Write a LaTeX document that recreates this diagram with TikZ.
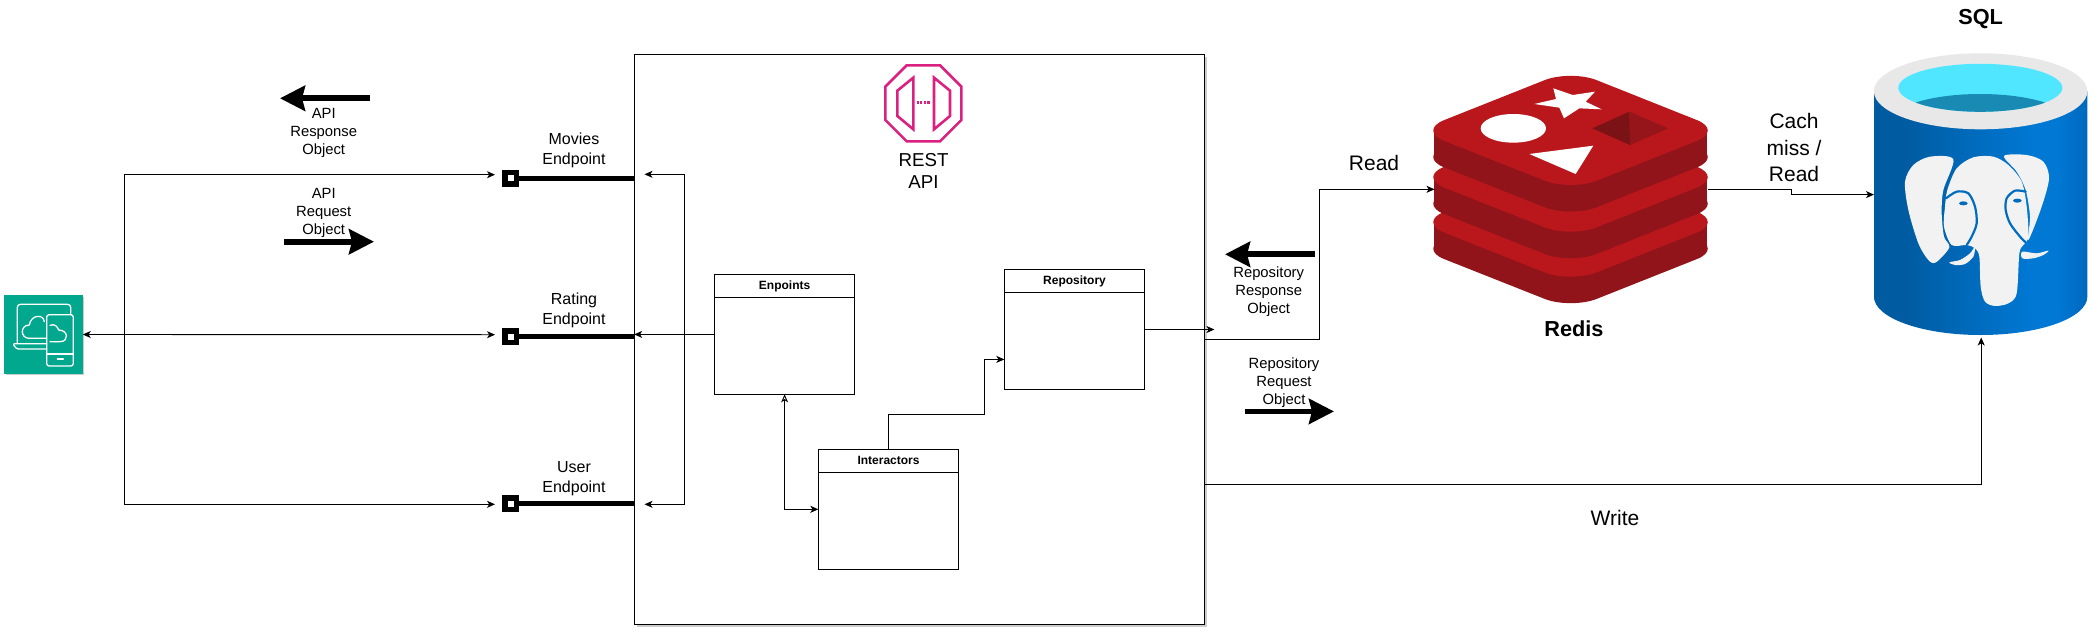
\documentclass[tikz,border=0pt]{standalone}
\usepackage{fontspec}
\setmainfont{Liberation Sans}
\usetikzlibrary{arrows.meta,shadows}
\definecolor{rsurf}{HTML}{B9171C}
\definecolor{rdark}{HTML}{90141A}
\definecolor{rpyra}{HTML}{7A1216}
\definecolor{rpyrb}{HTML}{96151A}
\definecolor{bluea}{HTML}{005BA1}
\definecolor{blueb}{HTML}{0078D4}
\definecolor{bluec}{HTML}{0068BC}
\definecolor{pinkc}{HTML}{DB2180}
\definecolor{tealc}{HTML}{01A88D}
\definecolor{offw}{HTML}{F2F2F2}
\definecolor{rimc}{HTML}{E8E8E8}
\definecolor{cyanc}{HTML}{50E6FF}
\definecolor{waterc}{HTML}{198AB3}
\pgfdeclarehorizontalshading{sqlbody}{100bp}{color(0bp)=(bluea);color(32bp)=(bluea);color(62bp)=(blueb);color(68bp)=(blueb);color(75bp)=(bluec);color(100bp)=(bluec)}
\newcommand{\redislayer}[1]{%
  \begin{scope}[yshift=-#1pt]
    \fill[rdark,rounded corners=28pt] (1418,157) -- (1570.7,96.3) -- (1723,157) -- (1570.7,217.5) -- cycle;
    \fill[rdark] (1434.4,130.5) rectangle (1707.3,157);
    \fill[rsurf,rounded corners=28pt] (1418,130.5) -- (1570.7,69.8) -- (1723,130.5) -- (1570.7,191) -- cycle;
  \end{scope}}
\tikzset{
  conn/.style={draw=black,line width=0.9pt,line join=miter},
  tipa/.tip={Stealth[length=8pt,width=7pt,inset=2.2pt]},
  tipo/.tip={Stealth[length=8pt,width=7pt,inset=2.2pt,fill=white]},
  bigarrow/.style={draw=black,line width=5.7pt,-{Stealth[length=25pt,width=25pt,inset=3pt]}},
  classbox/.style={draw=black,fill=white,line width=0.9pt,minimum width=140.4pt,minimum height=120pt,inner sep=0pt,outer sep=0pt},
  classhead/.style={draw=black,line width=0.9pt,minimum width=140.4pt,minimum height=23pt,inner sep=0pt,outer sep=0pt,anchor=north,font=\fontsize{12}{14}\selectfont\bfseries},
  portbox/.style={draw=black,fill=white,line width=5.5pt,minimum size=11.5pt,inner sep=0pt,outer sep=2.75pt},
  portline/.style={draw=black,line width=5pt},
  lblA/.style={font=\fontsize{16}{20}\selectfont,align=center,inner sep=0pt},
  lblB/.style={font=\fontsize{14.8}{18}\selectfont,align=center,inner sep=0pt},
  lblC/.style={font=\fontsize{21}{26.4}\selectfont,align=center,inner sep=0pt},
  lblD/.style={font=\fontsize{18.7}{22.5}\selectfont,align=center,inner sep=0pt},
  lblE/.style={font=\fontsize{21.7}{26}\selectfont\bfseries,align=center,inner sep=0pt},
  ghost/.style={inner sep=0pt,outer sep=0pt},
  whitestroke/.style={draw=white,line width=1.3pt,line join=round,line cap=round},
  pinkstroke/.style={draw=pinkc,line width=2.6pt,line join=miter},
  zoomed/.style={x=0.33333pt,y=-0.33333pt},
}
\begin{document}
\begin{tikzpicture}[x=1pt,y=-1pt]
\useasboundingbox (0,0) rectangle (2098,635);
\fill[white] (0,0) rectangle (2098,635);

% REST box
\node[draw=black,fill=white,line width=0.9pt,minimum width=570.6pt,minimum height=569.6pt,inner sep=0pt,outer sep=0pt,
  drop shadow={shadow xshift=2.5pt,shadow yshift=-2.5pt,opacity=.2,fill=black}] (rest) at (919.5,339.5) {};

% client icon
\node[fill=tealc,minimum width=78.5pt,minimum height=78.5pt,inner sep=0pt,outer sep=0pt,
  drop shadow={shadow xshift=1.5pt,shadow yshift=-1.5pt,opacity=.2,fill=black}] (client) at (43.5,334.5) {};
\begin{scope}[shift={(0,280)},zoomed]
  \draw[whitestroke,rounded corners=3pt] (52,188) -- (52,73) -- (212,73) -- (212,100);
  \draw[whitestroke,rounded corners=1.5pt] (140,191) -- (38,191) -- (50,207) -- (140,207);
  \draw[whitestroke,rounded corners=2.5pt] (140,104) rectangle (220,258);
  \draw[whitestroke] (140,222) -- (220,222);
  \draw[whitestroke] (172,237) -- (190,237);
  \draw[whitestroke] (138,175) -- (88,175) .. controls (60,175) and (60,135) .. (88,135) .. controls (92,105) and (130,100) .. (133,125);
  \draw[whitestroke] (150,136) .. controls (165,130) and (172,140) .. (176,150) .. controls (205,150) and (208,185) .. (180,185) -- (150,185);
\end{scope}

% ports
\node[portbox] (pm) at (510.5,178.3) {};
\node[portbox] (pr) at (510.5,336.5) {};
\node[portbox] (pu) at (510.5,503.6) {};
\draw[portline] (pm.east) -- (rest.west |- pm.east);
\draw[portline] (pr.east) -- (rest.west |- pr.east);
\draw[portline] (pu.east) -- (rest.west |- pu.east);

% class boxes
\node[classbox] (enp) at (784.6,334.4) {};
\node[classhead] at (enp.north) {Enpoints};
\node[classbox] (repo) at (1074.5,329.5) {};
\node[classhead] at (repo.north) {Repository};
\node[classbox] (inter) at (888.5,509.3) {};
\node[classhead] at (inter.north) {Interactors};

% coordinates
\coordinate (lj) at (124.5,334.7);
\coordinate (lm) at (495,174.7);
\coordinate (lr) at (495,334.7);
\coordinate (lu) at (495,504.3);
\coordinate (rj) at (684.3,334.4);
\coordinate (rm) at (644.5,174.3);
\coordinate (ru) at (644.5,504.3);
\coordinate (ir) at (984.4,414.3);
\coordinate (it) at (1004.3,359.4);
\coordinate (ro) at (1214.4,329.5);
\coordinate (rr) at (1204.8,339.3);
\coordinate (rb) at (1319.7,189.3);
\coordinate (ca) at (1791.6,189.3);
\coordinate (cb) at (1874,194.6);
\coordinate (wr) at (1204.8,484.3);
\coordinate (wt) at (1981.2,337.5);

% connectors
\draw[conn,{tipa}-{tipa}] (client.east) -- (lr);
\draw[conn,-{tipa}] (lj) |- (lm);
\draw[conn,-{tipa}] (lj) |- (lu);
\draw[conn,-{tipa}] (rj) |- (rm);
\draw[conn,-{tipa}] (rj) |- (ru);
\draw[conn,-{tipa}] (enp.west) -- (rest.west |- enp.west);
\draw[conn,{tipo}-{tipa}] (enp.south) |- (inter.west);
\draw[conn,-{tipa}] (inter.north) |- (ir) |- (it);
\draw[conn,-{tipa}] (repo.east) -- (ro);

% gateway icon
\begin{scope}[shift={(860,50)},zoomed]
  \draw[pinkstroke] (140,46) -- (240,46) -- (304,110) -- (304,210) -- (240,274) -- (140,274) -- (76,210) -- (76,110) -- cycle;
  \draw[pinkstroke] (160,83) -- (160,238) -- (112,198) -- (112,122) -- cycle;
  \draw[pinkstroke] (222,83) -- (222,238) -- (270,198) -- (270,122) -- cycle;
  \draw[pinkc,line width=2.6pt,dash pattern=on 2.2pt off 1.4pt] (170,158) -- (212,158);
\end{scope}

% redis
\node[ghost,minimum width=273pt,minimum height=229pt] (redis) at (1571,189.3) {};
\redislayer{91.7}
\redislayer{46.7}
\redislayer{0}
\begin{scope}[shift={(1420,60)},zoomed]
  \fill[white] (400,85) -- (458,105) -- (525,95) -- (497,125) -- (545,148) -- (478,145) -- (432,175) -- (418,143) -- (343,132) -- (408,117) -- cycle;
  \fill[white] (280,205) ellipse [x radius=98,y radius=43];
  \fill[white] (328,282) -- (520,257) -- (467,342) -- cycle;
  \fill[rpyra] (517,205) -- (628,155) -- (630,255) -- cycle;
  \fill[rpyrb] (628,155) -- (745,205) -- (630,255) -- cycle;
\end{scope}

% sql cylinder
\node[ghost,minimum width=213.3pt,minimum height=281.7pt] (sql) at (1980.6,194.2) {};
\shade[shading=sqlbody] (1874,91.3) -- (1874,296.7) arc [start angle=180,end angle=360,x radius=106.65pt,y radius=38.3pt] -- (2087.3,91.3) -- cycle;
\fill[rimc] (1980.6,91.3) ellipse [x radius=106.7pt,y radius=38pt];
\fill[cyanc] (1980.3,87.8) ellipse [x radius=82pt,y radius=24pt];
\begin{scope}
  \clip (1980.3,87.8) ellipse [x radius=82pt,y radius=24pt];
  \fill[waterc] (1980.3,122) ellipse [x radius=90pt,y radius=28pt];
\end{scope}
\begin{scope}[shift={(1860,40)},zoomed]
  \fill[offw] plot[smooth cycle] coordinates {(280,358)(210,350)(160,375)(135,425)(145,510)(175,610)(205,660)(228,667)(268,622)(252,590)(245,520)(250,450)};
  \fill[offw] plot[smooth cycle] coordinates {(432,348)(500,345)(550,365)(567,415)(545,500)(505,600)(510,530)(497,450)(470,395)};
  \fill[offw] plot[smooth cycle] coordinates {(262,450)(290,385)(340,352)(400,350)(445,375)(485,425)(500,500)(505,590)(490,615)(478,640)(470,760)(445,790)(405,798)(375,785)(362,740)(358,650)(345,625)(320,615)(275,615)(252,560)(255,500)};
  \draw[blueb!90!black,line width=2.2pt,line cap=round] plot[smooth] coordinates {(258,475)(290,455)(325,460)(345,500)(350,550)(335,590)(320,615)};
  \draw[blueb!90!black,line width=2.2pt,line cap=round] plot[smooth] coordinates {(497,455)(465,452)(440,475)(437,510)(450,550)(480,590)(497,607)};
  \fill[blueb!90!black] (310,490) ellipse [x radius=13,y radius=6];
  \fill[blueb!90!black] (472,482) ellipse [x radius=13,y radius=6];
  \fill[offw] plot[smooth cycle] coordinates {(268,667)(300,660)(330,640)(345,620)(340,650)(315,672)(285,675)};
  \fill[offw] plot[smooth cycle] coordinates {(487,635)(487,655)(520,655)(550,645)(565,632)(530,640)};
\end{scope}

% redis / sql connectors
\draw[conn,-{tipa}] (rr) -| (rb) -- (redis.west);
\draw[conn,-{tipa}] (redis.east) -- (ca) |- (cb);
\draw[conn,-{tipa}] (wr) -| (wt);

% big arrows
\coordinate (ba1) at (369.6,98.3);  \coordinate (ba2) at (280,98.3);
\coordinate (bb1) at (284.4,241.7); \coordinate (bb2) at (374,241.7);
\coordinate (bc1) at (1314.5,254.3);\coordinate (bc2) at (1225,254.3);
\coordinate (bd1) at (1244.7,411.4);\coordinate (bd2) at (1334,411.4);
\draw[bigarrow] (ba1) -- (ba2);
\draw[bigarrow] (bb1) -- (bb2);
\draw[bigarrow] (bc1) -- (bc2);
\draw[bigarrow] (bd1) -- (bd2);

% labels
\node[lblA] (t1) at (574,150.8) {Movies\\Endpoint};
\node[lblA] (t2) at (574,310.5) {Rating\\Endpoint};
\node[lblA] (t3) at (574,478.3) {User\\Endpoint};
\node[lblB] (t4) at (323.7,132.5) {API\\Response\\Object};
\node[lblB] (t5) at (323.7,212.5) {API\\Request\\Object};
\node[lblB] (t6) at (1268.7,292) {Repository\\Response\\Object};
\node[lblB] (t7) at (1284,382.5) {Repository\\Request\\Object};
\node[lblD] (t8) at (923.5,171.2) {REST\\API};
\node[lblC] (t9) at (1374,162.5) {Read};
\node[lblC] (t10) at (1794,147.5) {Cach\\miss /\\Read};
\node[lblC] (t11) at (1615,517.5) {Write};
\node[lblE] (t12) at (1574,328.6) {Redis};
\node[lblE] (t13) at (1980.6,19) {SQL};
\end{tikzpicture}
\end{document}
